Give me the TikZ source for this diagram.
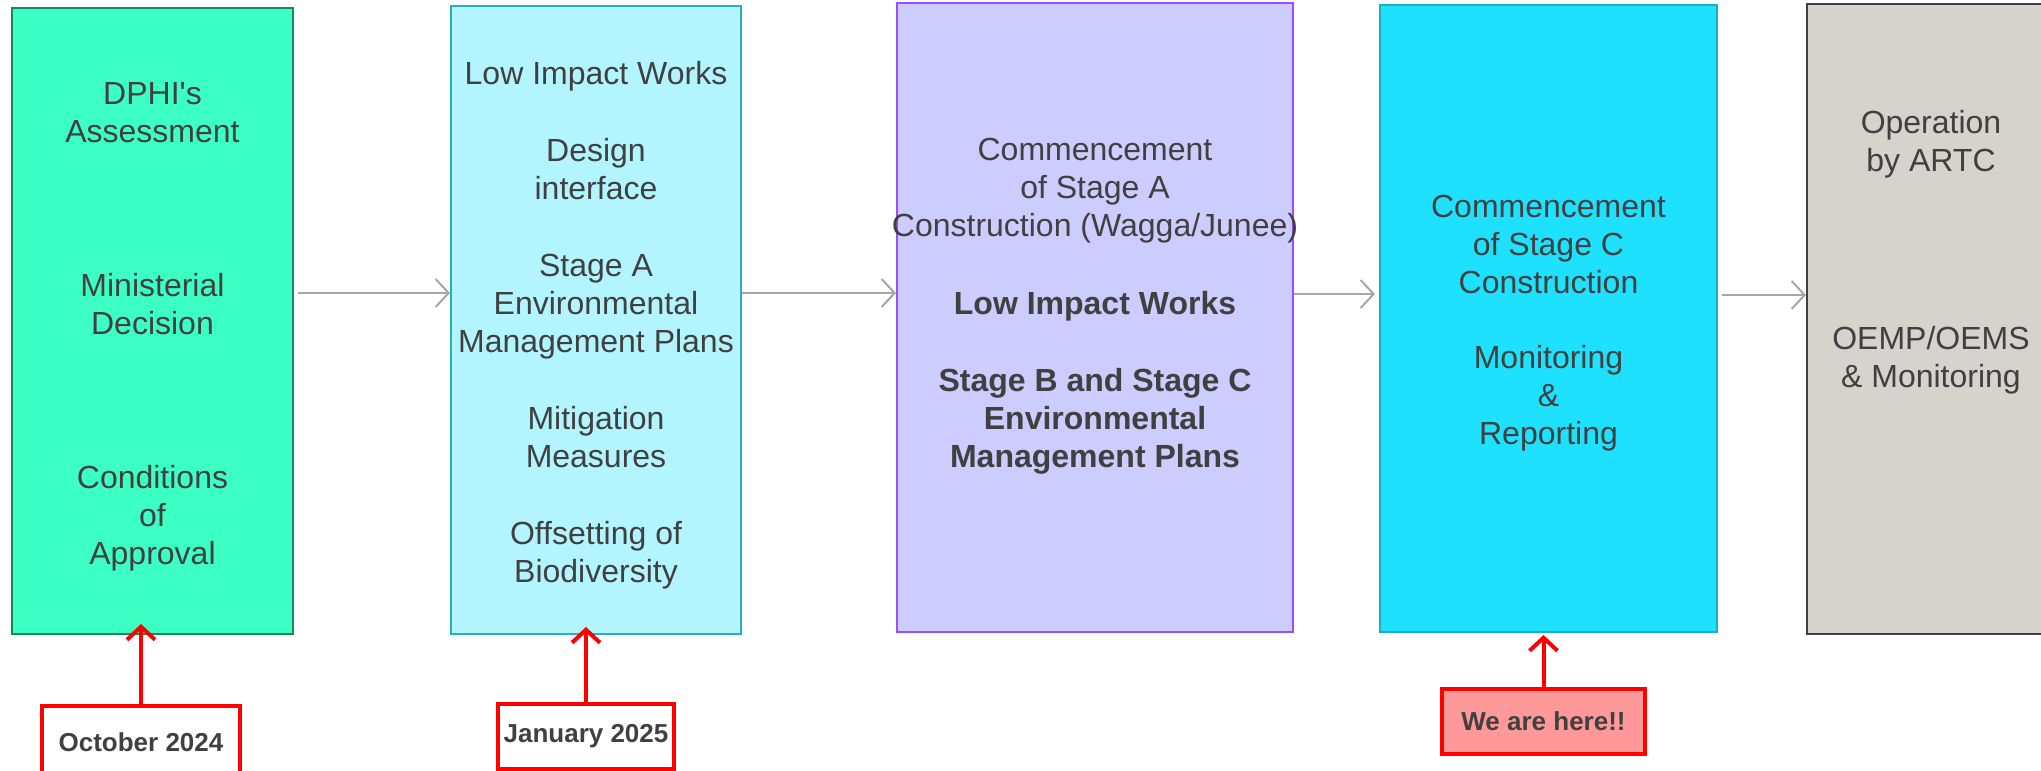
\documentclass[tikz,border=0pt]{standalone}
\usepackage{fontspec}
\setmainfont{Liberation Sans}
\usetikzlibrary{arrows.meta,positioning}
\definecolor{txt}{HTML}{404040}
\definecolor{dphifill}{HTML}{3CFFC4}
\definecolor{dphiline}{HTML}{17875E}
\definecolor{worksfill}{HTML}{B3F5FF}
\definecolor{worksline}{HTML}{2AAFC0}
\definecolor{stageafill}{HTML}{CCCCFF}
\definecolor{stagealine}{HTML}{9B4DFF}
\definecolor{stagecfill}{HTML}{1EE0FF}
\definecolor{stagecline}{HTML}{1AAFC4}
\definecolor{opfill}{HTML}{D6D2CC}
\definecolor{opline}{HTML}{404040}
\definecolor{flowgray}{HTML}{A6A6A6}
\definecolor{herefill}{HTML}{FF9999}
\begin{document}
\begin{tikzpicture}[x=0.5pt, y=-0.5pt,
    stage/.style = {draw, rectangle, line width=1pt, inner sep=0pt},
    words/.style = {text=txt, align=center, font=\fontsize{16pt}{19pt}\selectfont},
    datebox/.style = {draw=red, rectangle, line width=2pt, inner sep=0pt, text=txt, font=\bfseries\fontsize{13pt}{15pt}\selectfont},
    flow/.style = {draw=flowgray, line width=1pt, -{Straight Barb[length=6.5pt,width=14pt]}},
    pointer/.style = {draw=red, line width=2pt, -{Straight Barb[length=6.5pt,width=14pt]}}]
    \useasboundingbox (0,0) rectangle (2041,771);

    % the five stages
    \node[stage, fill=dphifill, draw=dphiline, minimum width=140.5pt, minimum height=313pt] (dphi) at (152.5,321) {};
    \node[stage, fill=worksfill, draw=worksline, minimum width=145pt, minimum height=314pt] (works) at (596,320) {};
    \node[stage, fill=stageafill, draw=stagealine, minimum width=198pt, minimum height=314.5pt] (stagea) at (1095,317.5) {};
    \node[stage, fill=stagecfill, draw=stagecline, minimum width=168.5pt, minimum height=313.5pt] (stagec) at (1548.5,318.5) {};
    \node[stage, fill=opfill, draw=opline, minimum width=124pt, minimum height=315pt] (operation) at (1931,319) {};

    % texts of the stages
    \node[words] (dphitext) at (152.5,327) {DPHI\textquotesingle s\\Assessment\\[58pt]Ministerial\\Decision\\[58pt]Conditions\\of\\Approval};
    \node[words] (workstext) at (596,325.5) {Low Impact Works\\[19.5pt]Design\\interface\\[19.5pt]Stage A\\Environmental\\Management Plans\\[19.5pt]Mitigation\\Measures\\[19.5pt]Offsetting of\\Biodiversity};
    \node[words] (stageatext) at (1095,306) {Commencement\\of Stage A\\Construction (Wagga/Junee)\\[20pt]\textbf{Low Impact Works}\\[19.5pt]\textbf{Stage B and Stage C}\\\textbf{Environmental}\\\textbf{Management Plans}};
    \node[words] (stagectext) at (1548.5,323) {Commencement\\of Stage C\\Construction\\[18.5pt]Monitoring\\\&\\Reporting};
    \node[words] (optext) at (1931,252) {Operation\\by ARTC\\[70pt]OEMP/OEMS\\\& Monitoring};

    % dates
    \node[datebox, minimum width=99pt, minimum height=36pt] (october) at (141,742) {October 2024};
    \node[datebox, minimum width=88pt, minimum height=32.5pt] (january) at (586,736.5) {January 2025};
    \node[datebox, fill=herefill, minimum width=101.5pt, minimum height=32.5pt] (here) at (1543.5,721.5) {We are here!!};

    % flow between the stages
    \draw[flow] (dphi.east |- 0,293) [shorten <=2pt] to (works.west |- 0,293);
    \draw[flow] (works.east |- 0,293) to (stagea.west |- 0,293);
    \draw[flow] (stagea.east |- 0,294) [shorten >=2pt] to (stagec.west |- 0,294);
    \draw[flow] (stagec.east |- 0,295) [shorten <=2pt] to (operation.west |- 0,295);

    % red pointers
    \coordinate (octtip) at (october.north |- 0,624);
    \coordinate (jantip) at (january.north |- 0,627);
    \coordinate (heretip) at (here.north |- 0,635);
    \draw[pointer] (october.north) to (octtip);
    \draw[pointer] (january.north) to (jantip);
    \draw[pointer] (here.north) to (heretip);
\end{tikzpicture}
\end{document}
